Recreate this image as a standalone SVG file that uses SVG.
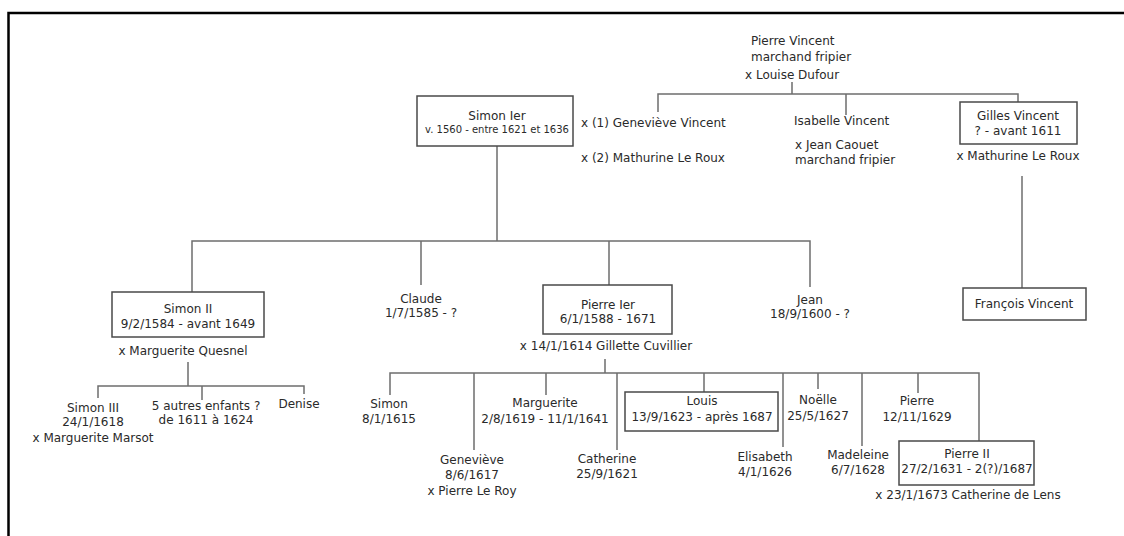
<svg xmlns="http://www.w3.org/2000/svg" width="1124" height="536" viewBox="0 0 1124 536">
<style>
text{font-family:"DejaVu Sans","Liberation Sans",sans-serif;font-size:12px;fill:#2a2a2a}
.c{text-anchor:middle}
.s{font-size:10px}
.box{fill:#fff;stroke:#4a4a4a;stroke-width:1.5}
#connectors path{fill:none;stroke:#6e6e6e;stroke-width:1.5}
</style>
<rect width="1124" height="536" fill="#fff"/>
<path d="M8.5,536 V13 H1124" fill="none" stroke="#000" stroke-width="2.5"/>
<g id="connectors">
<path d="M792,82 V94 M658,112 V94 H1018 V102 M846,94 V115"/>
<path d="M1022,176 V288"/>
<path d="M497,146 V241 M192,292 V241 H810 V287 M421,241 V285 M609,241 V285"/>
<path d="M188,362 V386 M98,398 V386 H304 V394 M202,386 V400"/>
<path d="M605,359 V373 M390,395 V373 H979 V441 M474,373 V450 M546,373 V395 M617,373 V450 M704,373 V392 M783,373 V447 M818,373 V389 M862,373 V446 M918,373 V393"/>
</g>
<g id="pierre-vincent">
<text x="751" y="45">Pierre Vincent</text>
<text x="751" y="61">marchand fripier</text>
<text x="745" y="79">x Louise Dufour</text>
</g>
<g id="simon-ier">
<rect class="box" x="417" y="96" width="156" height="50"/>
<text class="c" x="497" y="120">Simon Ier</text>
<text class="c s" x="497" y="133">v. 1560 - entre 1621 et 1636</text>
<text x="581" y="127">x (1) Geneviève Vincent</text>
<text x="581" y="162">x (2) Mathurine Le Roux</text>
</g>
<g id="isabelle-vincent">
<text x="794" y="125">Isabelle Vincent</text>
<text x="795" y="149">x Jean Caouet</text>
<text x="795" y="164">marchand fripier</text>
</g>
<g id="gilles-vincent">
<rect class="box" x="960" y="102" width="117" height="42"/>
<text class="c" x="1018" y="120">Gilles Vincent</text>
<text class="c" x="1018" y="135">? - avant 1611</text>
<text class="c" x="1018" y="160">x Mathurine Le Roux</text>
</g>
<g id="francois-vincent">
<rect class="box" x="963" y="288" width="123" height="32"/>
<text class="c" x="1024" y="308">François Vincent</text>
</g>
<g id="simon-ii">
<rect class="box" x="112" y="292" width="152" height="45"/>
<text class="c" x="188" y="313">Simon II</text>
<text class="c" x="188" y="328">9/2/1584 - avant 1649</text>
<text class="c" x="183" y="355">x Marguerite Quesnel</text>
</g>
<g id="claude">
<text class="c" x="421" y="303">Claude</text>
<text class="c" x="421" y="317">1/7/1585 - ?</text>
</g>
<g id="pierre-ier">
<rect class="box" x="543" y="285" width="129" height="49"/>
<text class="c" x="608" y="309">Pierre Ier</text>
<text class="c" x="608" y="323">6/1/1588 - 1671</text>
<text class="c" x="606" y="350">x 14/1/1614 Gillette Cuvillier</text>
</g>
<g id="jean">
<text class="c" x="810" y="304">Jean</text>
<text class="c" x="810" y="318">18/9/1600 - ?</text>
</g>
<g id="simon-iii">
<text class="c" x="93" y="412">Simon III</text>
<text class="c" x="93" y="426">24/1/1618</text>
<text class="c" x="93" y="442">x Marguerite Marsot</text>
</g>
<g id="autres-enfants">
<text class="c" x="206" y="410">5 autres enfants ?</text>
<text class="c" x="206" y="424">de 1611 à 1624</text>
</g>
<g id="denise">
<text class="c" x="299" y="408">Denise</text>
</g>
<g id="simon">
<text class="c" x="389" y="408">Simon</text>
<text class="c" x="389" y="423">8/1/1615</text>
</g>
<g id="genevieve">
<text class="c" x="472" y="464">Geneviève</text>
<text class="c" x="472" y="479">8/6/1617</text>
<text class="c" x="472" y="495">x Pierre Le Roy</text>
</g>
<g id="marguerite">
<text class="c" x="545" y="407">Marguerite</text>
<text class="c" x="545" y="423">2/8/1619 - 11/1/1641</text>
</g>
<g id="catherine">
<text class="c" x="607" y="463">Catherine</text>
<text class="c" x="607" y="478">25/9/1621</text>
</g>
<g id="louis">
<rect class="box" x="625" y="392" width="153" height="39"/>
<text class="c" x="702" y="405">Louis</text>
<text class="c" x="702" y="421">13/9/1623 - après 1687</text>
</g>
<g id="elisabeth">
<text class="c" x="765" y="461">Elisabeth</text>
<text class="c" x="765" y="476">4/1/1626</text>
</g>
<g id="noelle">
<text class="c" x="818" y="404">Noëlle</text>
<text class="c" x="818" y="420">25/5/1627</text>
</g>
<g id="madeleine">
<text class="c" x="858" y="459">Madeleine</text>
<text class="c" x="858" y="474">6/7/1628</text>
</g>
<g id="pierre">
<text class="c" x="917" y="405">Pierre</text>
<text class="c" x="917" y="421">12/11/1629</text>
</g>
<g id="pierre-ii">
<rect class="box" x="899" y="441" width="135" height="44"/>
<text class="c" x="967" y="458">Pierre II</text>
<text class="c" x="967" y="473">27/2/1631 - 2(?)/1687</text>
<text class="c" x="968" y="499">x 23/1/1673 Catherine de Lens</text>
</g>
</svg>
